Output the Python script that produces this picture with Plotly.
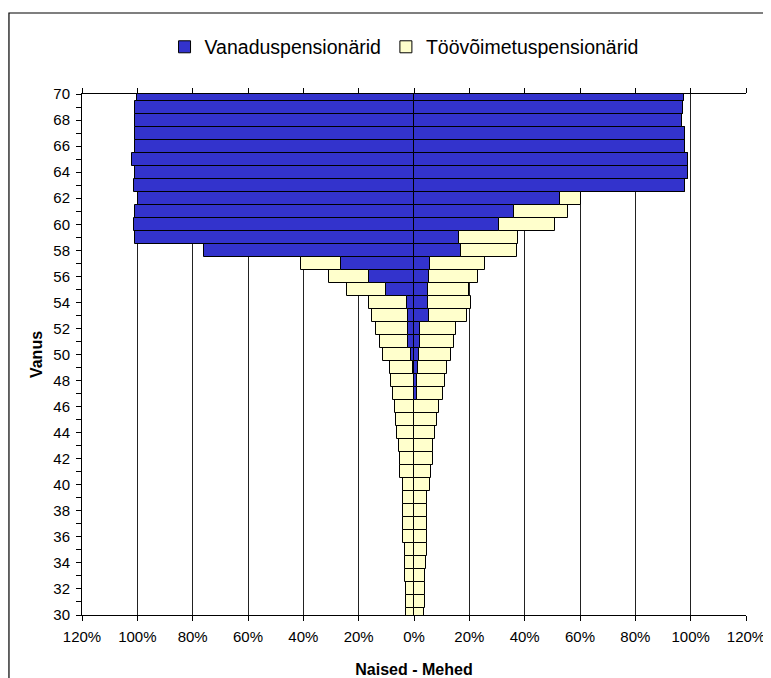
import plotly.graph_objects as go

ages = list(range(30, 71))

# Naised (women), percent of age group
naised_vanadus = [0, 0, 0, 0, 0, 0, 0, 0, 0, 0,
                  0, 0, 0, 0, 0, 0, 0, 0, 0, 0.2,
                  1.2, 2.0, 2.0, 2.3, 2.7, 10.2, 16.3, 26.3, 76.0, 100.8,
                  101.3, 100.8, 99.8, 101.3, 100.8, 101.8, 100.8, 100.8, 100.8, 100.8,
                  100.0]
naised_toovoimetus = [2.8, 2.8, 2.8, 3.3, 3.3, 3.3, 3.8, 3.8, 3.8, 4.1,
                      4.1, 4.9, 5.1, 5.5, 6.0, 6.4, 6.8, 7.6, 8.2, 8.4,
                      10.0, 10.2, 11.9, 13.0, 13.5, 14.0, 14.4, 14.4, 0, 0,
                      0, 0, 0, 0, 0, 0, 0, 0, 0, 0,
                      0]
# Mehed (men), percent of age group
mehed_vanadus = [0, 0, 0, 0, 0, 0, 0, 0, 0, 0,
                 0, 0, 0, 0, 0, 0, 0, 1.0, 1.0, 1.3,
                 1.7, 2.2, 2.2, 5.3, 5.0, 5.0, 5.3, 5.7, 17.1, 16.3,
                 30.8, 36.1, 52.8, 98.1, 99.0, 99.0, 98.1, 98.1, 96.8, 97.3,
                 97.7]
mehed_toovoimetus = [3.6, 4.1, 4.1, 4.1, 4.5, 4.8, 4.8, 4.8, 4.8, 4.8,
                     5.8, 6.3, 6.9, 6.9, 7.7, 8.2, 9.2, 9.3, 10.3, 10.8,
                     11.8, 12.2, 13.1, 13.7, 15.5, 15.0, 17.7, 20.0, 20.0, 21.2,
                     20.3, 19.4, 7.7, 0, 0, 0, 0, 0, 0, 0,
                     0]

x_tick_vals = [-120, -100, -80, -60, -40, -20, 0, 20, 40, 60, 80, 100, 120]
x_tick_text = ["120%", "100%", "80%", "60%", "40%", "20%", "0%",
               "20%", "40%", "60%", "80%", "100%", "120%"]

BLUE = "#3333CC"
YELLOW = "#FFFFCC"
FONT = "Liberation Sans, Arial, sans-serif"

fig = go.Figure()
line = dict(color="black", width=1)
fig.add_trace(go.Bar(y=ages, x=[-v for v in naised_vanadus], orientation="h",
                     name="Vanaduspensionärid", legendgroup="v",
                     marker=dict(color=BLUE, line=line), width=1))
fig.add_trace(go.Bar(y=ages, x=[-v for v in naised_toovoimetus], orientation="h",
                     name="Töövõimetuspensionärid", legendgroup="t",
                     marker=dict(color=YELLOW, line=line), width=1))
fig.add_trace(go.Bar(y=ages, x=mehed_vanadus, orientation="h",
                     name="Vanaduspensionärid", legendgroup="v", showlegend=False,
                     marker=dict(color=BLUE, line=line), width=1))
fig.add_trace(go.Bar(y=ages, x=mehed_toovoimetus, orientation="h",
                     name="Töövõimetuspensionärid", legendgroup="t", showlegend=False,
                     marker=dict(color=YELLOW, line=line), width=1))

# page body has an 8px margin, so the figure is 8px smaller and left/top margins shifted
fig.update_layout(
    width=763, height=670,
    margin=dict(l=74, r=25, t=86, b=63, autoexpand=False),
    paper_bgcolor="white", plot_bgcolor="white",
    barmode="relative", bargap=0,
    font=dict(family=FONT, color="black", size=15),
    legend=dict(orientation="h", x=0.485, xanchor="center", y=1.09, yanchor="middle",
                font=dict(size=19.5), itemwidth=30, tracegroupgap=0,
                bgcolor="rgba(0,0,0,0)"),
    xaxis=dict(range=[-120, 120], tickvals=x_tick_vals, ticktext=x_tick_text,
               showgrid=True, gridcolor="#222222", gridwidth=1,
               zeroline=True, zerolinecolor="black", zerolinewidth=1,
               showline=True, linecolor="black", linewidth=1, mirror="ticks",
               ticks="outside", ticklen=5, tickcolor="black", automargin=False,
               ticklabelstandoff=3,
               title=dict(text="<b>Naised - Mehed</b>", font=dict(size=16), standoff=20),
               fixedrange=True),
    yaxis=dict(range=[30, 70], dtick=2, tick0=30,
               showgrid=False, zeroline=False, automargin=False,
               showline=True, linecolor="black", linewidth=1,
               ticks="outside", ticklen=5, tickcolor="black",
               ticklabelstandoff=3,
               minor=dict(dtick=1, ticks="outside", ticklen=5, tickcolor="black"),
               title=dict(text="<b>Vanus</b>", font=dict(size=16), standoff=6),
               fixedrange=True),
    yaxis2=dict(range=[30, 70], overlaying="y", anchor="x", side="left",
                dtick=1, tick0=30, ticks="inside", ticklen=3, tickcolor="black",
                showticklabels=False, showgrid=False, zeroline=False, showline=False,
                automargin=False, fixedrange=True),
    shapes=[dict(type="rect", xref="paper", yref="paper",
                 x0=-0.110, x1=1.3, y0=-0.3, y1=1.1555,
                 line=dict(color="black", width=1.2), fillcolor="rgba(0,0,0,0)",
                 layer="below")],
)

fig.write_html("out.html")
